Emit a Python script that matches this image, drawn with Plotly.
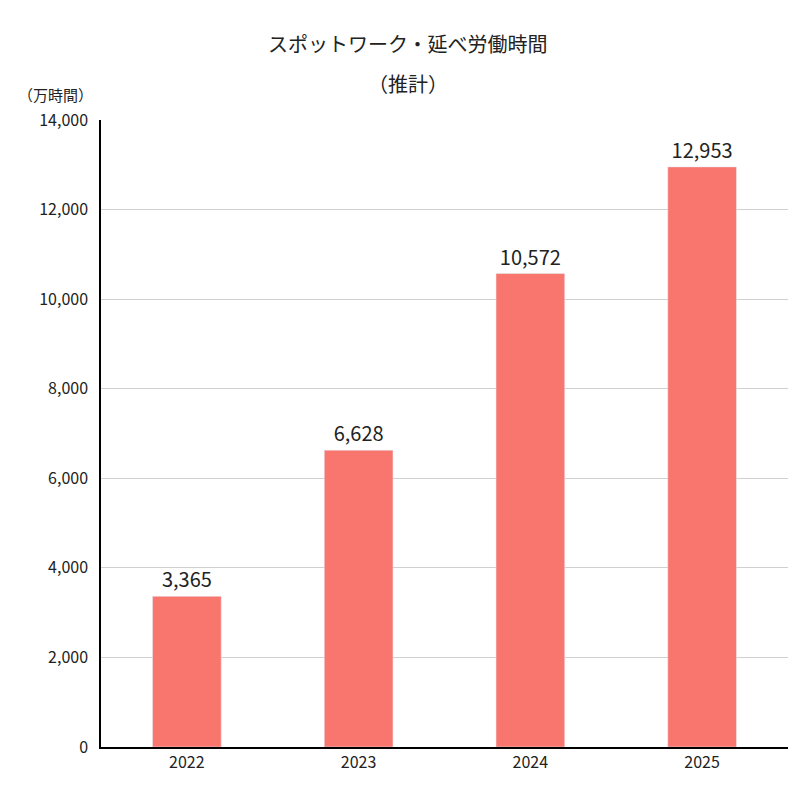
import plotly.graph_objects as go

years = ["2022", "2023", "2024", "2025"]
hours = [3365, 6628, 10572, 12953]
labels = ["3,365", "6,628", "10,572", "12,953"]

font = "Noto Sans CJK JP"

fig = go.Figure(go.Bar(
    x=years, y=hours, text=labels, textposition="outside",
    textfont=dict(size=20, color="#222"),
    marker_color="#F8766D", cliponaxis=False,
))

fig.update_layout(
    width=800, height=800,
    paper_bgcolor="white", plot_bgcolor="white",
    font=dict(family=font, color="#222"),
    margin=dict(l=93, r=20, t=112, b=61),
    bargap=0.6,
    showlegend=False,
)
# title lines and unit label, placed in paper pixels
for txt, y, size, x, anchor in [
    ("スポットワーク・延べ労働時間", 35, 20, 400, "center"),
    ("（推計）", 75, 20, 400, "center"),
    ("（万時間）", 87, 15, 8, "left"),
]:
    fig.add_annotation(text=txt, x=(x - 93) / 687, y=(739 - y) / 627,
                       xref="paper", yref="paper", xanchor=anchor, yanchor="middle",
                       showarrow=False, font=dict(size=size, family=font))

fig.update_yaxes(range=[0, 14000], dtick=2000, tickformat=",", gridcolor="#d0d0d0",
                 showline=True, linecolor="black", linewidth=1.5,
                 tickfont=dict(size=16), ticks="", ticklabelstandoff=8)
fig.update_xaxes(showline=True, linecolor="black", linewidth=1.5,
                 tickfont=dict(size=16))

fig.write_html("out.html")
